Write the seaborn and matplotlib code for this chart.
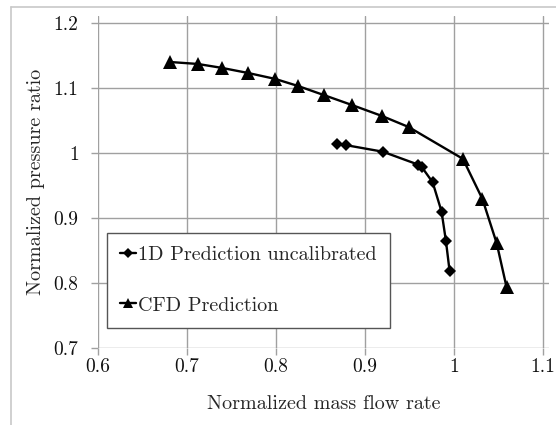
import matplotlib
matplotlib.use("Agg")
import matplotlib.pyplot as plt
from matplotlib.lines import Line2D
import seaborn as sns
import pandas as pd

# 1D model (uncalibrated) speed line
mass_1d = [0.869, 0.879, 0.920, 0.960, 0.964, 0.976, 0.986, 0.991, 0.995]
pr_1d = [1.014, 1.012, 1.002, 0.982, 0.978, 0.955, 0.910, 0.864, 0.819]

# CFD speed line
mass_cfd = [0.681, 0.712, 0.739, 0.769, 0.799, 0.825, 0.854, 0.885, 0.919,
            0.949, 1.010, 1.032, 1.048, 1.059]
pr_cfd = [1.140, 1.137, 1.131, 1.123, 1.114, 1.103, 1.089, 1.074, 1.057,
          1.040, 0.991, 0.929, 0.861, 0.794]

x_ticks = [0.6, 0.7, 0.8, 0.9, 1.0, 1.1]
x_tick_labels = ["0.6", "0.7", "0.8", "0.9", "1", "1.1"]
y_ticks = [0.7, 0.8, 0.9, 1.0, 1.1, 1.2]
y_tick_labels = ["0.7", "0.8", "0.9", "1", "1.1", "1.2"]

label_1d = "1D Prediction uncalibrated"
label_cfd = "CFD Prediction"

sns.set_style("white")
plt.rcParams["font.family"] = ["cmr10", "DejaVu Serif"]
plt.rcParams["axes.formatter.use_mathtext"] = True

W, H = 556, 425
fig = plt.figure(figsize=(W / 100, H / 100), dpi=100)
ax = fig.add_axes([98 / W, 1 - 348 / H, (549 - 98) / W, (348 - 16) / H])

df_1d = pd.DataFrame({"mass": mass_1d, "pr": pr_1d})
df_cfd = pd.DataFrame({"mass": mass_cfd, "pr": pr_cfd})

sns.lineplot(data=df_1d, x="mass", y="pr", sort=False, color="black",
             linewidth=1.7, marker="D", markersize=6.5, markeredgewidth=0,
             label=label_1d, ax=ax)
sns.lineplot(data=df_cfd, x="mass", y="pr", sort=False, color="black",
             linewidth=1.7, marker="^", markersize=9.5, markeredgewidth=0,
             label=label_cfd, ax=ax)

grid_c = "#a0a0a0"
ax.set_xlim(0.6, 1.1 + 6 / 890)
ax.set_ylim(0.7, 1.2 + 7 / 650)
ax.set_xticks(x_ticks)
ax.set_xticklabels(x_tick_labels)
ax.set_yticks(y_ticks)
ax.set_yticklabels(y_tick_labels)
ax.grid(True, color=grid_c, linewidth=1.0)
for s in ax.spines.values():
    s.set_visible(False)
ax.tick_params(axis="both", direction="out", length=5, width=1.0,
               color=grid_c, labelsize=14, labelcolor="#111111")
ax.tick_params(axis="x", pad=2)
ax.tick_params(axis="y", pad=9)
ax.tick_params(left=True, bottom=True)

ax.set_xlabel("Normalized mass flow rate", fontsize=14.5, labelpad=14)
ax.set_ylabel("Normalized pressure ratio", fontsize=14.5, labelpad=6)

leg = ax.legend(loc="upper left",
                bbox_to_anchor=((107 - 98) / 451, (348 - 233) / 332),
                fontsize=14.5, handlelength=0.8, handletextpad=0.1,
                labelspacing=1.6, borderpad=0.65, borderaxespad=0,
                markerscale=0.8, fancybox=False, frameon=True, framealpha=1)
leg.get_frame().set_edgecolor("#555555")
leg.get_frame().set_linewidth(1.0)

# outer chart frame (left and top edges)
fig.add_artist(Line2D([10.5 / W, 10.5 / W], [0, 1 - 7 / H],
                      transform=fig.transFigure, color="#c8c8c8", lw=1.2))
fig.add_artist(Line2D([10.5 / W, 1], [1 - 7 / H, 1 - 7 / H],
                      transform=fig.transFigure, color="#c8c8c8", lw=1.2))

fig.savefig("out.png", dpi=100)
